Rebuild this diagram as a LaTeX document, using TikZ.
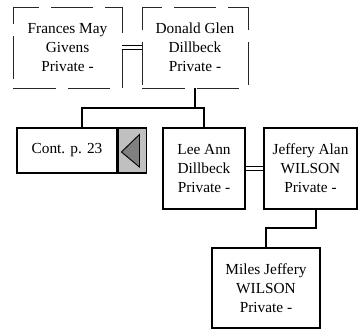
\documentclass[tikz,border=0pt]{standalone}
\usepackage{fontspec}
\setmainfont{Liberation Serif}
\usetikzlibrary{calc,positioning}

\definecolor{tabgray}{HTML}{C0C0C0}
\definecolor{arrowgray}{HTML}{808080}

\begin{document}
\begin{tikzpicture}[x=0.75pt, y=-0.75pt, line width=1.1pt,
  person/.style={draw, align=center, inner sep=0pt,
    font=\fontsize{11.5}{14.25}\selectfont, minimum height=60.75pt},
  private/.style={person, draw=black!85, line width=0.7pt, dash pattern=on 32pt off 9pt},
  conn/.style={line width=1.5pt},
  marriage/.style={double, double distance=2.25pt, line width=0.7pt}]
\useasboundingbox (0,0) rectangle (359,329);

% parents
\node[private, minimum width=81.75pt] (frances) at (67.5,47.5) {Frances May\\Givens\\Private -};
\node[private, minimum width=79.5pt] (donald) at (195,47.5) {Donald Glen\\Dillbeck\\Private -};

% children
\node[person, minimum width=75pt, minimum height=33.75pt] (cont) at (67,150.5) {Cont. p. 23};
\node[person, fill=tabgray, minimum width=21pt, minimum height=33.75pt, right=0pt of cont] (tab) {};
\filldraw[fill=arrowgray, line width=0.7pt] ($(tab)+(-11,1.5)$) -- ($(tab)+(7,-16)$) -- ($(tab)+(7,16.5)$) -- cycle;

\node[person, minimum width=61.5pt] (leeann) at (204,168.5) {Lee Ann\\Dillbeck\\Private -};
\node[person, minimum width=69.75pt] (jeffery) at (310.5,168.5) {Jeffery Alan\\WILSON\\Private -};

% grandchild
\node[person, minimum width=81pt, minimum height=60pt] (miles) at (266,288) {Miles Jeffery\\WILSON\\Private -};

% marriages
\draw[marriage] (frances.east) -- (donald.west);
\draw[marriage] (leeann.east) -- (jeffery.west);

% descent
\draw[conn] (donald.south) -- ++(0,20) coordinate (fam1);
\draw[conn] ($(cont.north)+(15,0)$) |- (fam1) -| (leeann.north);
\coordinate (fam2) at (316,228);
\draw[conn] (fam2 |- jeffery.south) -- (fam2) -| (miles.north);

\end{tikzpicture}
\end{document}
